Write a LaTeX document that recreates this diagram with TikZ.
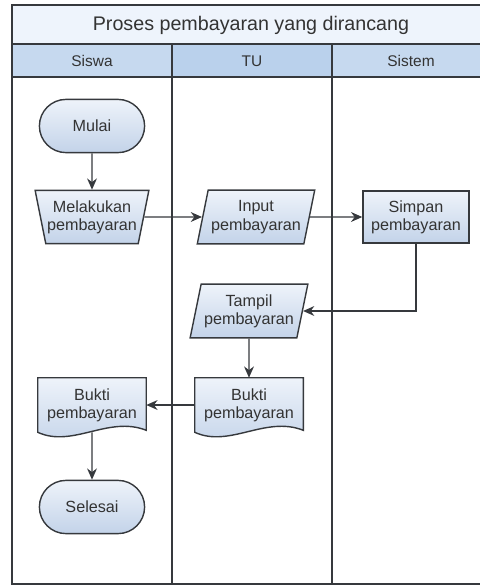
\documentclass[tikz,border=0pt]{standalone}
\usepackage{fontspec}
\setmainfont{Liberation Sans}
\usetikzlibrary{shapes.geometric,shapes.misc,arrows.meta,calc,backgrounds}
\definecolor{garis}{HTML}{36393D}
\definecolor{teks}{HTML}{333333}
\definecolor{judulbg}{HTML}{EEF4FC}
\definecolor{kepala}{HTML}{C6D9EF}
\definecolor{kepalatu}{HTML}{BAD1EC}
\definecolor{atas}{HTML}{EEF3FA}
\definecolor{bawah}{HTML}{C3D3E9}
\tikzset{
  isi/.style={draw=garis, line width=1pt, top color=atas, bottom color=bawah, text=teks,
    font=\fontsize{11.5}{13}\selectfont, align=center, inner xsep=1pt},
  mulaiselesai/.style={isi, rounded rectangle, minimum width=2.7cm, minimum height=1.33cm},
  manual/.style={isi, trapezium, shape border rotate=180, trapezium angle=76,
    trapezium stretches=true, minimum width=2.85cm, minimum height=1.33cm},
  inputan/.style={isi, trapezium, trapezium left angle=76, trapezium right angle=104,
    trapezium stretches=true, minimum width=2.95cm, minimum height=1.34cm},
  proses/.style={isi, rectangle, minimum width=2.65cm, minimum height=1.3cm},
  dokumen/.style={text=teks, font=\fontsize{11.5}{13}\selectfont, align=center,
    minimum width=2.7cm, minimum height=1.35cm},
  lajur/.style={draw=garis, line width=1pt},
  panah/.style={draw=garis, line width=1pt, -{Stealth[length=8pt,width=7pt]}},
}
% bentuk dokumen (bawah bergelombang)
\newcommand{\dokbentuk}[1]{%
  \begin{scope}[on background layer]
    \path[isi] (#1.north west) -- (#1.north east) -- ($(#1.south east)+(0,-2)$)
      .. controls ($(#1.south east)+(-38,-17)$) and ($(#1.south west)+(35,16)$) .. (#1.south west) -- cycle;
  \end{scope}}
\begin{document}
\begin{tikzpicture}[x=0.025cm, y=-0.025cm]
        \useasboundingbox (0,0) rectangle (480,587);
        % judul dan kepala lajur
        \fill[judulbg](12,5)rectangle(490,44);
        \fill[kepala](12,44)rectangle(172,77);
        \fill[kepalatu](172,44)rectangle(332,77);
        \fill[kepala](332,44)rectangle(490,77);
        \draw[lajur](12,5)rectangle(490,584);
        \foreach \y in {44,77}
        {
        \draw[lajur](12,\y)to(490,\y);
        }
        \foreach \x in {172,332}
        {
        \draw[lajur](\x,44)to(\x,584);
        }
        \node[text=teks, font=\fontsize{14}{16}\selectfont](judul)at(251,25){Proses pembayaran yang dirancang};
        \node[text=teks, font=\fontsize{11}{13}\selectfont](siswa)at(92,61){Siswa};
        \node[text=teks, font=\fontsize{11}{13}\selectfont](tu)at(252,61){TU};
        \node[text=teks, font=\fontsize{11}{13}\selectfont](sistem)at(411,61){Sistem};
        % simbol
        \node[mulaiselesai](mulai)at(92,126){Mulai};
        \node[manual](melakukan)at(92,217){Melakukan\\pembayaran};
        \node[inputan](input)at(256,217){Input\\pembayaran};
        \node[proses](simpan)at(416,217){Simpan\\pembayaran};
        \node[inputan](tampil)at(249,311){Tampil\\pembayaran};
        \node[dokumen](buktitu)at(249,405){Bukti\\pembayaran};
        \dokbentuk{buktitu}
        \node[dokumen](buktisiswa)at(92,405){Bukti\\pembayaran};
        \dokbentuk{buktisiswa}
        \node[mulaiselesai](selesai)at(92,507){Selesai};
        % alur
        \draw[panah](mulai)to(melakukan);
        \draw[panah](melakukan)to(input);
        \draw[panah](input)to(simpan);
        \draw[panah](simpan.south)|-(tampil.east);
        \draw[panah](tampil)to(buktitu);
        \draw[panah](buktitu)to(buktisiswa);
        \draw[panah](buktisiswa)to(selesai);
    \end{tikzpicture}
\end{document}
